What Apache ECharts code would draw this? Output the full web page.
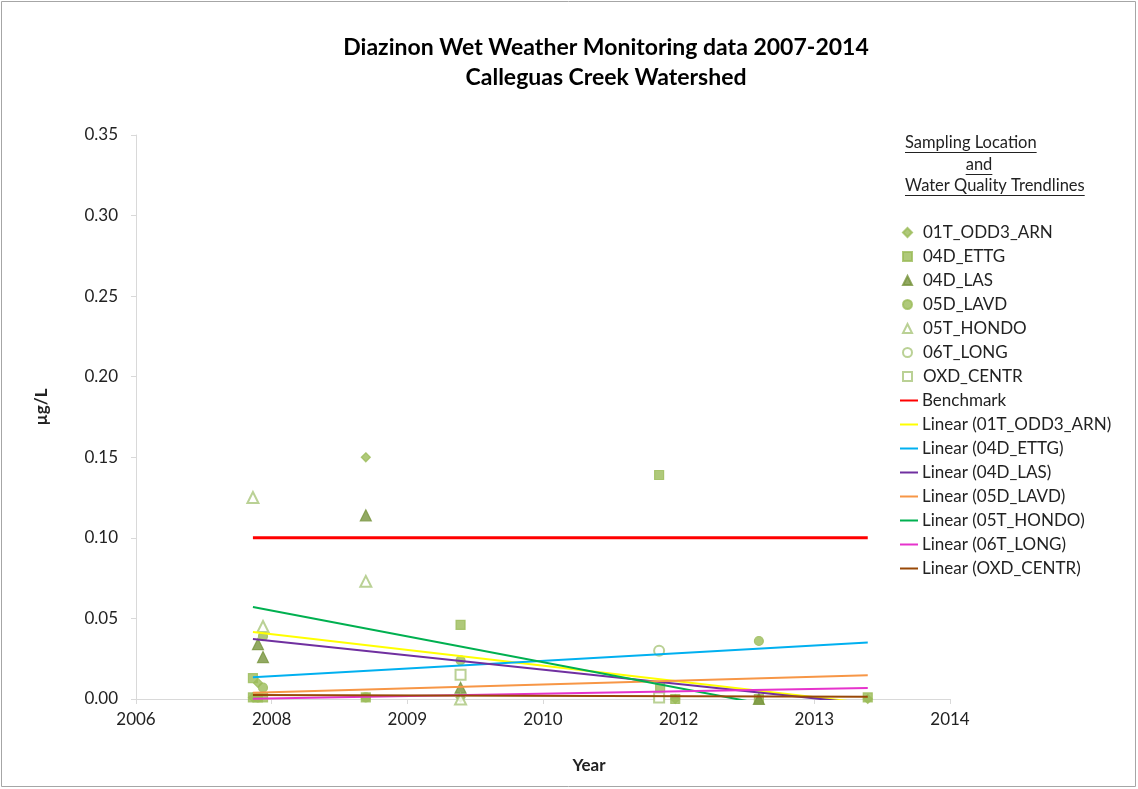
<!DOCTYPE html>
<html>
<head>
<meta charset="utf-8">
<title>Diazinon Wet Weather Monitoring data 2007-2014</title>
<script src="https://cdn.jsdelivr.net/npm/echarts@6/dist/echarts.min.js"></script>
<style>
  html, body { margin: 0; padding: 0; background: #fff; }
  #chart { width: 1138px; height: 789px; }
</style>
</head>
<body>
<div id="chart"></div>
<script>
// x axis is an Excel date axis: 7 evenly spaced ticks (~492 days apart) labelled by year
var xTickLabels = ['2006', '2008', '2009', '2010', '2012', '2013', '2014']
var xAxisStart = 2006.74   // decimal year at the first tick
var xTickStep = 1.346      // years between ticks
var yTicks = [0, 0.05, 0.10, 0.15, 0.20, 0.25, 0.30, 0.35]

// sampling results, [decimal year, ug/L]
var odd3Arn = [[2007.90, 0.001], [2007.95, 0.010], [2009.02, 0.150], [2009.96, 0.001], [2012.09, 0.000], [2014.00, 0.000]]
var ettg = [[2007.90, 0.013], [2007.90, 0.001], [2007.95, 0.001], [2008.00, 0.001], [2009.02, 0.001], [2009.96, 0.046],
  [2011.93, 0.139], [2011.94, 0.007], [2012.09, 0.000], [2012.92, 0.000], [2014.00, 0.001]]
var las = [[2007.95, 0.034], [2008.00, 0.026], [2009.02, 0.114], [2009.96, 0.007], [2012.92, 0.000]]
var lavd = [[2007.95, 0.001], [2008.00, 0.039], [2008.00, 0.007], [2009.02, 0.001], [2009.96, 0.024], [2012.92, 0.036]]
var hondo = [[2007.90, 0.125], [2008.00, 0.045], [2009.02, 0.073], [2009.96, 0.000]]
var long = [[2011.93, 0.030]]
var centr = [[2009.96, 0.015], [2011.93, 0.001]]

var benchmark = [[2007.90, 0.10], [2014.00, 0.10]]

// Excel trendline ends, [decimal year, ug/L]
var trendOdd3Arn = [[2007.90, 0.0416], [2014.00, -0.0027]]
var trendEttg = [[2007.90, 0.0135], [2014.00, 0.0350]]
var trendLas = [[2007.90, 0.0372], [2014.00, -0.0031]]
var trendLavd = [[2007.90, 0.0039], [2014.00, 0.0147]]
var trendHondo = [[2007.90, 0.0571], [2014.00, -0.0155]]
var trendLong = [[2007.90, 0.0002], [2014.00, 0.0068]]
var trendCentr = [[2007.90, 0.0025], [2014.00, 0.0014]]

var FONT = 'Lato, sans-serif'
var TEXT = '#222'

function toAxis (list) {
  return list.map(function (p) {
    return [(p[0] - xAxisStart) / xTickStep, p[1]]
  })
}

function scatter (name, data, symbol, size, color) {
  return {
    name: name,
    type: 'scatter',
    data: toAxis(data),
    symbol: symbol,
    symbolSize: size,
    itemStyle: { color: color, borderColor: color, borderWidth: 1.2 },
    emphasis: { disabled: true }
  }
}

function line (name, data, color, width) {
  return {
    name: name,
    type: 'line',
    data: toAxis(data),
    symbol: 'none',
    clip: true,
    lineStyle: { color: color, width: width },
    itemStyle: { color: color },
    emphasis: { disabled: true }
  }
}

var markerSeries = [
  scatter('01T_ODD3_ARN', odd3Arn, 'diamond', 9, '#9BBB59'),
  scatter('04D_ETTG', ettg, 'rect', 9, '#9BBB59'),
  scatter('04D_LAS', las, 'triangle', 11, '#77933C'),
  scatter('05D_LAVD', lavd, 'circle', 9, '#9BBB59'),
  scatter('05T_HONDO', hondo, 'emptyTriangle', 11, '#A9C57A'),
  scatter('06T_LONG', long, 'emptyCircle', 10, '#A9C57A'),
  scatter('OXD_CENTR', centr, 'emptyRect', 10, '#A9C57A')
]
var lineSeries = [
  line('Benchmark', benchmark, '#FF0000', 3),
  line('Linear (01T_ODD3_ARN)', trendOdd3Arn, '#FFFF00', 2),
  line('Linear (04D_ETTG)', trendEttg, '#00B0F0', 2),
  line('Linear (04D_LAS)', trendLas, '#7030A0', 2),
  line('Linear (05D_LAVD)', trendLavd, '#F79646', 2),
  line('Linear (05T_HONDO)', trendHondo, '#00B050', 2),
  line('Linear (06T_LONG)', trendLong, '#E633CC', 2),
  line('Linear (OXD_CENTR)', trendCentr, '#984807', 2)
]
var series = markerSeries.concat(lineSeries)

// underlined legend heading
var headFont = '16.5px ' + FONT
var ctx = document.createElement('canvas').getContext('2d')
ctx.font = headFont
var heading = [
  { text: 'Sampling Location', x: 905, y: 143, align: 'left' },
  { text: 'and', x: 979, y: 165, align: 'center' },
  { text: 'Water Quality Trendlines', x: 905, y: 186, align: 'left' }
]
var graphics = [{
  type: 'rect',
  shape: { x: 1.5, y: 1.5, width: 1134, height: 785 },
  style: { fill: 'none', stroke: '#a6a6a6', lineWidth: 1 },
  silent: true
}]
heading.forEach(function (h) {
  var w = ctx.measureText(h.text).width
  var x0 = h.align === 'center' ? h.x - w / 2 : h.x
  graphics.push({
    type: 'text', x: h.x, y: h.y, silent: true,
    style: { text: h.text, font: headFont, fill: TEXT, align: h.align, verticalAlign: 'middle' }
  })
  graphics.push({
    type: 'line', silent: true,
    shape: { x1: x0, y1: h.y + 9.5, x2: x0 + w, y2: h.y + 9.5 },
    style: { stroke: TEXT, lineWidth: 1 }
  })
})

var legendText = { fontFamily: FONT, fontSize: 17, color: TEXT }

var chart = echarts.init(document.getElementById('chart'))
chart.setOption({
  animation: false,
  backgroundColor: '#fff',
  textStyle: { fontFamily: FONT },
  title: {
    text: 'Diazinon Wet Weather Monitoring data 2007-2014\nCalleguas Creek Watershed',
    left: 601,
    top: 28,
    textAlign: 'center',
    textStyle: { fontFamily: FONT, fontSize: 23, fontWeight: 'bold', color: '#000', lineHeight: 30 }
  },
  legend: [{
    orient: 'vertical',
    left: 897,
    top: 219,
    itemWidth: 9,
    itemHeight: 9,
    itemGap: 7,
    selectedMode: false,
    textStyle: Object.assign({ padding: [0, 0, 0, 6] }, legendText),
    data: markerSeries.map(function (s) { return s.name })
  }, {
    orient: 'vertical',
    left: 895,
    top: 219 + 7 * 24,
    icon: 'rect',
    itemWidth: 18,
    itemHeight: 2,
    itemGap: 7,
    selectedMode: false,
    textStyle: Object.assign({ padding: [0, 0, 0, -1] }, legendText),
    data: lineSeries.map(function (s) { return s.name })
  }],
  grid: { left: 136, right: 188, top: 135, bottom: 90, containLabel: false },
  xAxis: {
    type: 'value',
    min: 0,
    max: xTickLabels.length - 1,
    interval: 1,
    name: 'Year',
    nameLocation: 'middle',
    nameGap: 58,
    nameTextStyle: { fontFamily: FONT, fontSize: 17, fontWeight: 'bold', color: TEXT, padding: [0, 0, 0, 92] },
    axisLine: { lineStyle: { color: '#d9d9d9', width: 1 } },
    axisTick: { show: true, inside: false, length: 5, lineStyle: { color: '#d9d9d9' } },
    axisLabel: {
      margin: 12,
      fontFamily: FONT,
      fontSize: 17,
      color: TEXT,
      formatter: function (v) { return xTickLabels[Math.round(v)] }
    },
    splitLine: { show: false }
  },
  yAxis: {
    type: 'value',
    min: yTicks[0],
    max: yTicks[yTicks.length - 1],
    interval: yTicks[1] - yTicks[0],
    name: 'µg/L',
    nameLocation: 'middle',
    nameGap: 86,
    nameRotate: 90,
    nameTextStyle: { fontFamily: FONT, fontSize: 17, fontWeight: 'bold', color: TEXT, padding: [0, 0, 0, 20] },
    axisLine: { show: true, lineStyle: { color: '#d9d9d9', width: 1 } },
    axisTick: { show: true, inside: false, length: 5, lineStyle: { color: '#d9d9d9' } },
    axisLabel: {
      margin: 18,
      fontFamily: FONT,
      fontSize: 17,
      color: TEXT,
      formatter: function (v) { return v.toFixed(2) }
    },
    splitLine: { show: false }
  },
  graphic: graphics,
  series: series
})
</script>
</body>
</html>
